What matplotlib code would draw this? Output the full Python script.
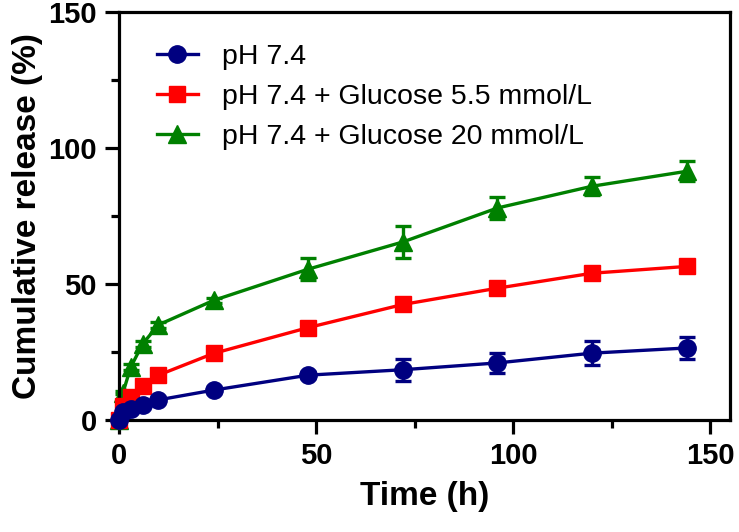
import matplotlib
matplotlib.use('Agg')
import matplotlib.pyplot as plt
from matplotlib.ticker import MultipleLocator

plt.rcParams['font.family'] = ['Liberation Sans', 'DejaVu Sans']

# time points (h)
time_h = [0, 1, 3, 6, 10, 24, 48, 72, 96, 120, 144]

# cumulative release (%) and SD
ph74 = [0, 3.0, 4.2, 5.5, 7.4, 11.0, 16.5, 18.5, 21.0, 24.6, 26.5]
ph74_err = [0, 0.5, 0.5, 0.5, 0.6, 0.8, 1.2, 4.0, 3.7, 4.3, 4.0]
glu55 = [0, 5.0, 8.5, 12.5, 16.5, 24.5, 34.0, 42.5, 48.5, 54.0, 56.5]
glu55_err = [0, 0.5, 0.5, 0.6, 1.0, 1.0, 1.5, 1.5, 2.0, 1.5, 2.0]
glu20 = [0, 10.0, 19.5, 28.0, 35.0, 44.0, 55.5, 65.5, 78.0, 86.0, 91.5]
glu20_err = [0, 0.5, 1.0, 1.0, 1.0, 1.0, 4.0, 6.0, 4.0, 3.4, 3.6]

labels = ['pH 7.4', 'pH 7.4 + Glucose 5.5 mmol/L', 'pH 7.4 + Glucose 20 mmol/L']
colors = ['#000080', '#ff0000', '#008000']

fig = plt.figure(figsize=(7.39, 5.32), dpi=100)
ax = fig.add_axes([0.161, 0.2105, 0.827, 0.7665])

series = [(ph74, ph74_err, 'o', 12.5, 4),
          (glu55, glu55_err, 's', 11.5, 3),
          (glu20, glu20_err, '^', 12.5, 2)]
for (vals, err, mk, ms, z), lab, c in zip(series, labels, colors):
    ax.errorbar(time_h, vals, yerr=err, color=c, marker=mk, ms=ms, lw=2.4,
                elinewidth=2.4, capsize=6, capthick=2.4, label=lab, zorder=z,
                clip_on=False)

ax.set_xlim(0, 155)
ax.set_ylim(0, 150)
ax.xaxis.set_major_locator(MultipleLocator(50))
ax.xaxis.set_minor_locator(MultipleLocator(25))
ax.yaxis.set_major_locator(MultipleLocator(50))
ax.yaxis.set_minor_locator(MultipleLocator(25))

for s in ax.spines.values():
    s.set_linewidth(2.3)
ax.tick_params(which='major', length=10, width=2.3, labelsize=21, pad=6)
ax.tick_params(which='minor', length=6, width=2.3)
for t in ax.get_xticklabels() + ax.get_yticklabels():
    t.set_fontweight('bold')

ax.set_xlabel('Time (h)', fontsize=24, fontweight='bold', labelpad=8)
ax.set_ylabel('Cumulative release (%)', fontsize=24, fontweight='bold', labelpad=4)

handles, labs = ax.get_legend_handles_labels()
handles = [h[0] for h in handles]
ax.legend(handles, labs, loc='upper left', bbox_to_anchor=(0.02, 0.985), frameon=False,
          fontsize=20.5, handlelength=1.45, handletextpad=0.85, labelspacing=0.5)

fig.savefig('out.png', dpi=100)
